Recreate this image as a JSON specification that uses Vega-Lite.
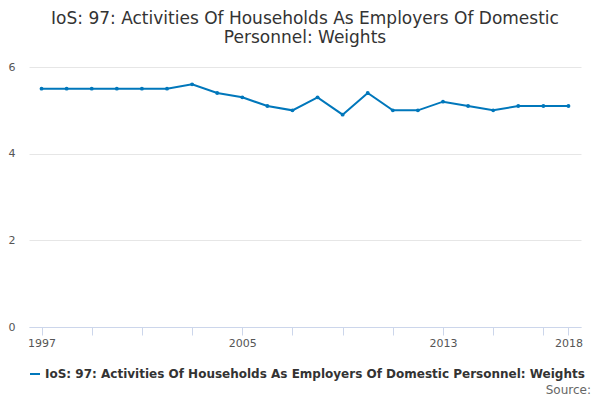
{
"$schema":"https://vega.github.io/schema/vega-lite/v6.json",
"width":552,"height":260,
"padding":{"left":8,"top":10,"right":12,"bottom":5},
"title":{"text":["IoS: 97: Activities Of Households As Employers Of Domestic","Personnel: Weights"],"font":"DejaVu Sans","fontSize":17,"fontWeight":"normal","color":"#333","offset":14},
"config":{"view":{"stroke":null},"font":"DejaVu Sans"},
"data":{"values":[
{"year":1997,"value":5.5},{"year":1998,"value":5.5},{"year":1999,"value":5.5},{"year":2000,"value":5.5},{"year":2001,"value":5.5},{"year":2002,"value":5.5},{"year":2003,"value":5.6},{"year":2004,"value":5.4},{"year":2005,"value":5.3},{"year":2006,"value":5.1},{"year":2007,"value":5.0},{"year":2008,"value":5.3},{"year":2009,"value":4.9},{"year":2010,"value":5.4},{"year":2011,"value":5.0},{"year":2012,"value":5.0},{"year":2013,"value":5.2},{"year":2014,"value":5.1},{"year":2015,"value":5.0},{"year":2016,"value":5.1},{"year":2017,"value":5.1},{"year":2018,"value":5.1}]},
"layer":[
{"mark":{"type":"line","color":"#0077bb","strokeWidth":2,"point":{"size":15,"color":"#0077bb"}},
"encoding":{
"x":{"field":"year","type":"quantitative","scale":{"domain":[1996.5,2018.5],"nice":false},
"axis":{"title":null,"values":[1997,1999,2001,2003,2005,2007,2009,2011,2013,2015,2017,2018],"labelExpr":"indexof([1997,2005,2013,2018],datum.value)>=0?datum.value:''","grid":false,"tickColor":"#ccd6eb","domainColor":"#ccd6eb","labelColor":"#555","labelFontSize":11,"tickSize":8}},
"y":{"field":"value","type":"quantitative","scale":{"domain":[0,6]},
"axis":{"title":null,"values":[0,2,4,6],"gridColor":"#e6e6e6","domain":false,"ticks":false,"labelColor":"#555","labelFontSize":11,"labelPadding":14}},
"color":{"datum":"IoS: 97: Activities Of Households As Employers Of Domestic Personnel: Weights","scale":{"range":["#0077bb"]},
"legend":{"orient":"bottom","title":null,"labelFontSize":12,"labelFontWeight":"bold","labelColor":"#333","symbolType":"stroke","symbolStrokeWidth":2,"labelLimit":600,"offset":20}}}},
{"data":{"values":[{"t":"Source:"}]},"mark":{"type":"text","align":"right","color":"#666","fontSize":12,"y":323,"x":562},"encoding":{"text":{"field":"t"}}}
]}
